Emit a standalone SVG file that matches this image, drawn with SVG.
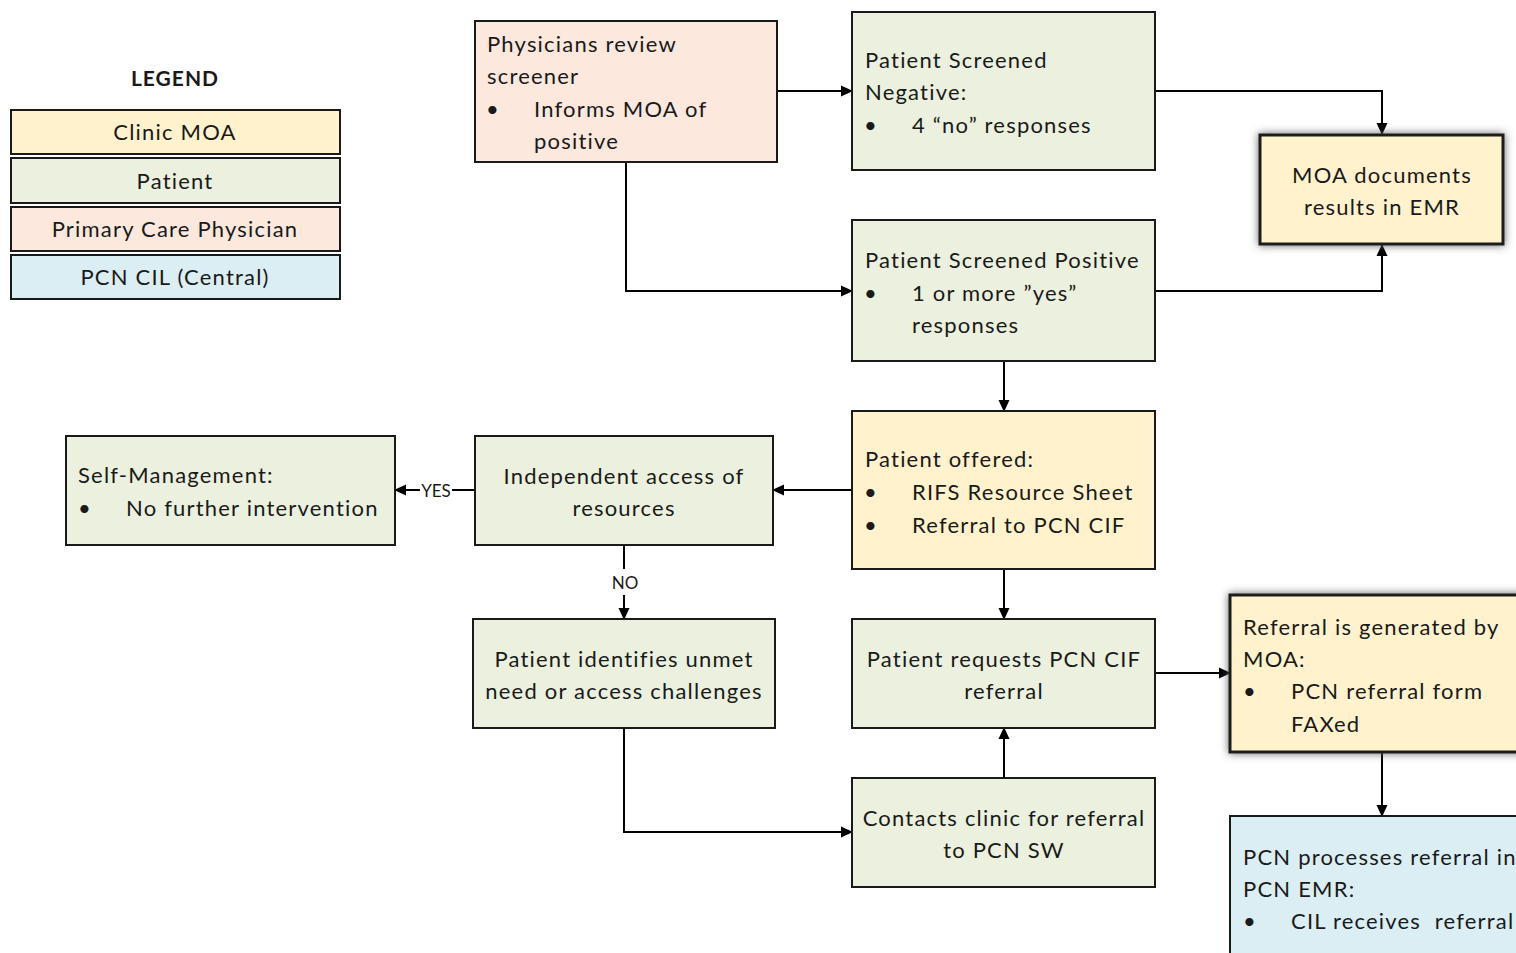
<svg xmlns="http://www.w3.org/2000/svg" width="1516" height="953" viewBox="0 0 1516 953">
<defs>
<style>
text{font-family:Lato,"Liberation Sans",sans-serif;font-size:22px;fill:#1a1a1a;letter-spacing:1.2px}
.c{text-anchor:middle}
.box{stroke:#1a1a1a;stroke-width:2}
.moa{fill:#FFF2CC}.pat{fill:#EBF1DE}.phy{fill:#FCE8DC}.pcn{fill:#DBEEF4}
.thick{stroke-width:3}
.ln{fill:none;stroke:#000;stroke-width:2}
.lbl{font-size:17px;letter-spacing:0}
</style>
<marker id="ah" markerWidth="12" markerHeight="12" refX="11" refY="6" orient="auto" markerUnits="userSpaceOnUse">
<path d="M0,0.5 L12,6 L0,11.5 Z" fill="#000"/>
</marker>
<filter id="sh" x="-10%" y="-10%" width="130%" height="130%">
<feDropShadow dx="0" dy="0" stdDeviation="4" flood-color="#555" flood-opacity="0.9"/>
</filter>
</defs>
<rect width="1516" height="953" fill="#fff"/>

<g id="legend">
<text x="175" y="86" class="c" style="font-weight:bold;font-size:21px;letter-spacing:1px">LEGEND</text>
<rect x="11" y="110" width="329" height="44" class="box moa"/>
<text x="175" y="140" class="c">Clinic MOA</text>
<rect x="11" y="158" width="329" height="45" class="box pat"/>
<text x="175" y="189" class="c">Patient</text>
<rect x="11" y="207" width="329" height="44" class="box phy"/>
<text x="175" y="237" class="c">Primary Care Physician</text>
<rect x="11" y="255" width="329" height="44" class="box pcn"/>
<text x="175" y="285" class="c">PCN CIL (Central)</text>
</g>

<g id="connectors">
<line x1="777" y1="91" x2="852" y2="91" class="ln" marker-end="url(#ah)"/>
<polyline points="626,162 626,291 852,291" class="ln" marker-end="url(#ah)"/>
<polyline points="1155,91 1382,91 1382,134" class="ln" marker-end="url(#ah)"/>
<polyline points="1155,291 1382,291 1382,245" class="ln" marker-end="url(#ah)"/>
<line x1="1004" y1="361" x2="1004" y2="411" class="ln" marker-end="url(#ah)"/>
<line x1="852" y1="490" x2="773" y2="490" class="ln" marker-end="url(#ah)"/>
<line x1="475" y1="490" x2="452" y2="490" class="ln"/>
<line x1="420" y1="490" x2="395" y2="490" class="ln" marker-end="url(#ah)"/>
<text x="436" y="497" class="c lbl">YES</text>
<line x1="624" y1="545" x2="624" y2="569" class="ln"/>
<line x1="624" y1="595" x2="624" y2="619" class="ln" marker-end="url(#ah)"/>
<text x="625" y="589" class="c lbl">NO</text>
<line x1="1004" y1="569" x2="1004" y2="619" class="ln" marker-end="url(#ah)"/>
<polyline points="624,728 624,832 852,832" class="ln" marker-end="url(#ah)"/>
<line x1="1004" y1="778" x2="1004" y2="728" class="ln" marker-end="url(#ah)"/>
<line x1="1155" y1="673" x2="1230" y2="673" class="ln" marker-end="url(#ah)"/>
<line x1="1382" y1="752" x2="1382" y2="816" class="ln" marker-end="url(#ah)"/>
</g>

<g id="physicians">
<rect x="475" y="21" width="302" height="141" class="box phy"/>
<text x="487" y="52">Physicians review</text>
<text x="487" y="84">screener</text>
<text x="486" y="117">•</text>
<text x="534" y="117">Informs MOA of</text>
<text x="534" y="149">positive</text>
</g>

<g id="negative">
<rect x="852" y="12" width="303" height="158" class="box pat"/>
<text x="865" y="68">Patient Screened</text>
<text x="865" y="100">Negative:</text>
<text x="864" y="133">•</text>
<text x="912" y="133">4 “no” responses</text>
</g>

<g id="moa-documents">
<rect x="1260" y="135" width="243" height="109" class="box moa thick" filter="url(#sh)"/>
<text x="1382" y="183" class="c">MOA documents</text>
<text x="1382" y="215" class="c">results in EMR</text>
</g>

<g id="positive">
<rect x="852" y="220" width="303" height="141" class="box pat"/>
<text x="865" y="268">Patient Screened Positive</text>
<text x="864" y="301">•</text>
<text x="912" y="301">1 or more ”yes”</text>
<text x="912" y="333">responses</text>
</g>

<g id="offered">
<rect x="852" y="411" width="303" height="158" class="box moa"/>
<text x="865" y="467">Patient offered:</text>
<text x="864" y="500">•</text>
<text x="912" y="500">RIFS Resource Sheet</text>
<text x="864" y="533">•</text>
<text x="912" y="533">Referral to PCN CIF</text>
</g>

<g id="independent">
<rect x="475" y="436" width="298" height="109" class="box pat"/>
<text x="624" y="484" class="c">Independent access of</text>
<text x="624" y="516" class="c">resources</text>
</g>

<g id="self-management">
<rect x="66" y="436" width="329" height="109" class="box pat"/>
<text x="78" y="483">Self-Management:</text>
<text x="78" y="516">•</text>
<text x="126" y="516">No further intervention</text>
</g>

<g id="identifies">
<rect x="473" y="619" width="302" height="109" class="box pat"/>
<text x="624" y="667" class="c">Patient identifies unmet</text>
<text x="624" y="699" class="c">need or access challenges</text>
</g>

<g id="requests">
<rect x="852" y="619" width="303" height="109" class="box pat"/>
<text x="1004" y="667" class="c">Patient requests PCN CIF</text>
<text x="1004" y="699" class="c">referral</text>
</g>

<g id="contacts">
<rect x="852" y="778" width="303" height="109" class="box pat"/>
<text x="1004" y="826" class="c">Contacts clinic for referral</text>
<text x="1004" y="858" class="c">to PCN SW</text>
</g>

<g id="referral">
<rect x="1230" y="595" width="300" height="157" class="box moa thick" filter="url(#sh)"/>
<text x="1243" y="635">Referral is generated by</text>
<text x="1243" y="667">MOA:</text>
<text x="1243" y="699">•</text>
<text x="1291" y="699">PCN referral form</text>
<text x="1291" y="732">FAXed</text>
</g>

<g id="pcn-processes">
<rect x="1230" y="816" width="300" height="150" class="box pcn"/>
<text x="1243" y="865">PCN processes referral in</text>
<text x="1243" y="897">PCN EMR:</text>
<text x="1243" y="929">•</text>
<text x="1291" y="929" style="white-space:pre">CIL receives  referral</text>
</g>
</svg>
